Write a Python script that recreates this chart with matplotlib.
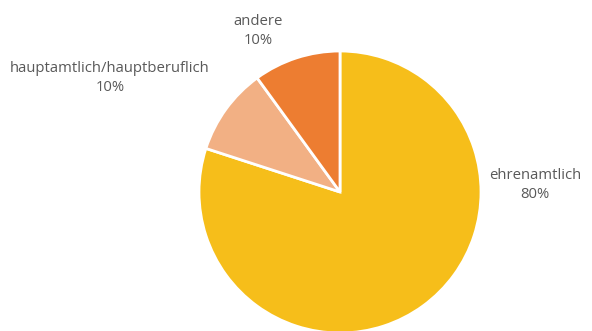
import matplotlib.pyplot as plt

labels = ["ehrenamtlich", "hauptamtlich/hauptberuflich", "andere"]
shares = [80, 10, 10]
colors = ["#F6BE1A", "#F2B084", "#ED7D31"]

fig = plt.figure(figsize=(5.92, 3.31), dpi=100)
ax = fig.add_axes([0, 0, 1, 1])

ax.pie(shares, colors=colors, startangle=90, counterclock=False,
       center=(340, 139), radius=141,
       wedgeprops=dict(edgecolor="white", linewidth=2))
ax.set_xlim(0, 592)
ax.set_ylim(0, 331)
ax.set_aspect("equal")
ax.axis("off")

# label positions (pixel coords, y up)
label_pos = [(535, 146), (110, 253), (258, 300)]
for name, val, (x, y) in zip(labels, shares, label_pos):
    ax.text(x, y, f"{name}\n{val}%", ha="center", va="center",
            fontsize=10.7, color="#595959", family="Open Sans", linespacing=1.3)

fig.savefig("out.png", dpi=100)
